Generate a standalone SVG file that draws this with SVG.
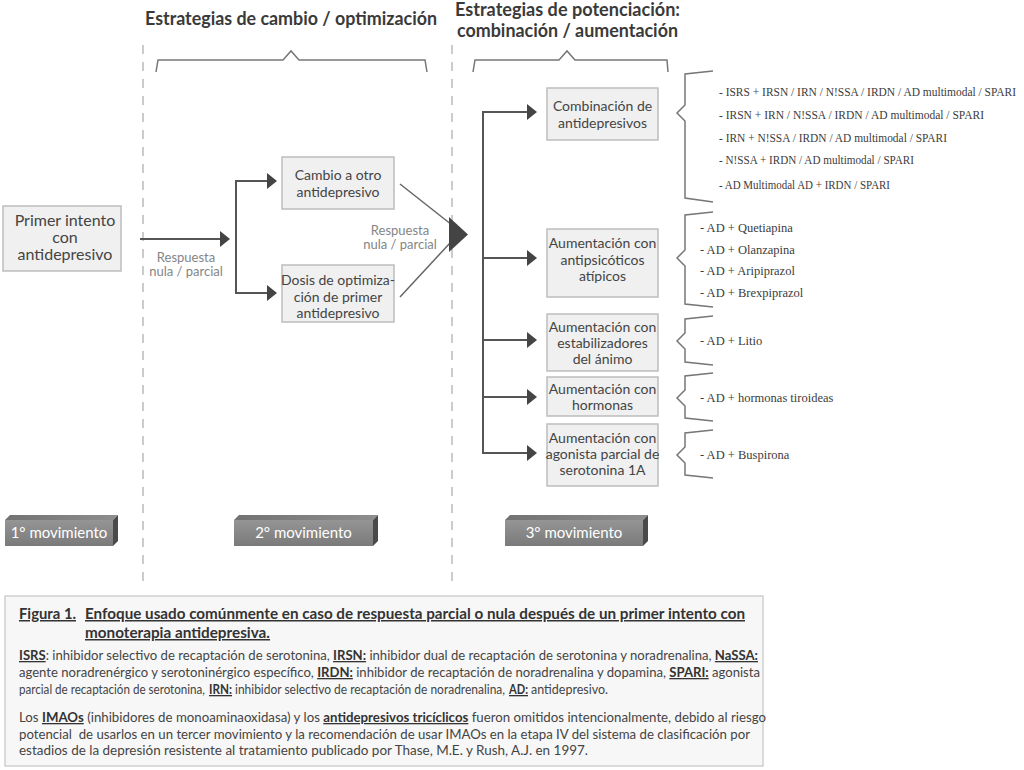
<svg xmlns="http://www.w3.org/2000/svg" width="1024" height="770" viewBox="0 0 1024 770">
<defs>
<style>
.hd{font-family:Lato,"Open Sans","Liberation Sans",sans-serif;font-weight:bold;font-size:18px;fill:#3a3a3a}
.bx{fill:#f0f0f0;stroke:#bdbdbd;stroke-width:1.5}
.bt{font-family:Lato,"Open Sans","Liberation Sans",sans-serif;font-size:14px;fill:#444;text-anchor:middle}
.bt1{font-family:Lato,"Open Sans","Liberation Sans",sans-serif;font-size:16px;fill:#444;text-anchor:middle}
.lb{font-family:Lato,"Open Sans","Liberation Sans",sans-serif;font-size:13px;fill:#858585;text-anchor:middle}
.ln{fill:none;stroke:#555;stroke-width:2}
.dg{fill:none;stroke:#666;stroke-width:1.5}
.ds{fill:none;stroke:#aaa;stroke-width:1.2;stroke-dasharray:9 8}
.br{fill:none;stroke:#777;stroke-width:1.5}
.li{font-family:"Liberation Serif","DejaVu Serif",serif;font-size:12.5px;fill:#3c3c3c}
.li1{font-family:"Liberation Serif","DejaVu Serif",serif;font-size:11.5px;fill:#3c3c3c}
.mv{font-family:Lato,"Open Sans","Liberation Sans",sans-serif;font-size:15px;fill:#fff;text-anchor:middle}
.cp{font-family:Lato,"Open Sans","Liberation Sans",sans-serif;font-size:13px;fill:#444}
.cb{font-family:Lato,"Open Sans","Liberation Sans",sans-serif;font-size:13px;font-weight:bold;text-decoration:underline;fill:#333}
.ct{font-family:Lato,"Open Sans","Liberation Sans",sans-serif;font-size:15px;font-weight:bold;fill:#333;text-decoration:underline}
.u{font-weight:bold;text-decoration:underline;fill:#333}
</style>
<marker id="ah" viewBox="0 0 10 16" markerWidth="10" markerHeight="16" refX="0" refY="8" orient="auto" markerUnits="userSpaceOnUse">
<path d="M0,0 L10,8 L0,16 z" fill="#444"/>
</marker>
<linearGradient id="gf" x1="0" y1="0" x2="0" y2="1"><stop offset="0" stop-color="#959595"/><stop offset="1" stop-color="#7a7a7a"/></linearGradient>
<linearGradient id="gt" x1="0" y1="0" x2="1" y2="0"><stop offset="0" stop-color="#727272"/><stop offset="1" stop-color="#8e8e8e"/></linearGradient>
</defs>
<rect width="1024" height="770" fill="#fff"/>

<g id="headers">
<text class="hd" x="145" y="25" textLength="292" lengthAdjust="spacingAndGlyphs">Estrategias de cambio / optimización</text>
<text class="hd" x="455" y="16" textLength="225" lengthAdjust="spacingAndGlyphs">Estrategias de potenciación:</text>
<text class="hd" x="457" y="37" textLength="221" lengthAdjust="spacingAndGlyphs">combinación / aumentación</text>
<path class="br" d="M156,72 L158,60 L283,60 L291,51 L299,60 L425,60 L427,72"/>
<path class="br" d="M473,72 L475,60 L559,60 L567,51 L575,60 L667,60 L668,72"/>
</g>

<g id="dividers">
<line class="ds" x1="143" y1="45" x2="143" y2="585"/>
<line class="ds" x1="452" y1="45" x2="452" y2="585"/>
</g>

<g id="connectors">
<line class="ln" x1="140" y1="239" x2="220" y2="239" marker-end="url(#ah)"/>
<path class="ln" d="M266,181 L236,181 L236,293 L266,293"/>
<line class="ln" x1="236" y1="181" x2="267" y2="181" marker-end="url(#ah)"/>
<line class="ln" x1="236" y1="293" x2="267" y2="293" marker-end="url(#ah)"/>
<line class="dg" x1="400" y1="184" x2="452" y2="225"/>
<line class="dg" x1="400" y1="297" x2="450" y2="243"/>
<polygon points="449,217 468,234.5 449,252" fill="#444"/>
<path class="ln" d="M527,112 L483,112 L483,453 L527,453"/>
<line class="ln" x1="483" y1="112" x2="527" y2="112" marker-end="url(#ah)"/>
<line class="ln" x1="483" y1="258" x2="527" y2="258" marker-end="url(#ah)"/>
<line class="ln" x1="483" y1="340" x2="527" y2="340" marker-end="url(#ah)"/>
<line class="ln" x1="483" y1="397" x2="527" y2="397" marker-end="url(#ah)"/>
<line class="ln" x1="483" y1="453" x2="527" y2="453" marker-end="url(#ah)"/>
<text class="lb" x="186" y="262">Respuesta</text>
<text class="lb" x="186" y="276">nula / parcial</text>
<text class="lb" x="400" y="235">Respuesta</text>
<text class="lb" x="400" y="249">nula / parcial</text>
</g>

<g id="n-primer">
<rect class="bx" x="3" y="206" width="118" height="65"/>
<text class="bt1" x="65" y="226">Primer intento</text>
<text class="bt1" x="65" y="243">con</text>
<text class="bt1" x="65" y="260">antidepresivo</text>
</g>
<g id="n-cambio">
<rect class="bx" x="282" y="157" width="112" height="52"/>
<text class="bt" x="338" y="180">Cambio a otro</text>
<text class="bt" x="338" y="197">antidepresivo</text>
</g>
<g id="n-dosis">
<rect class="bx" x="282" y="265" width="112" height="57"/>
<text class="bt" x="338" y="285">Dosis de optimiza-</text>
<text class="bt" x="338" y="302">ción de primer</text>
<text class="bt" x="338" y="318">antidepresivo</text>
</g>
<g id="n-combinacion">
<rect class="bx" x="547" y="88" width="111" height="52"/>
<text class="bt" x="602.5" y="111">Combinación de</text>
<text class="bt" x="602.5" y="128">antidepresivos</text>
</g>
<g id="n-antipsicoticos">
<rect class="bx" x="547" y="229" width="111" height="68"/>
<text class="bt" x="602.5" y="248">Aumentación con</text>
<text class="bt" x="602.5" y="265">antipsicóticos</text>
<text class="bt" x="602.5" y="281">atípicos</text>
</g>
<g id="n-estabilizadores">
<rect class="bx" x="547" y="314" width="111" height="57"/>
<text class="bt" x="602.5" y="332">Aumentación con</text>
<text class="bt" x="602.5" y="348">estabilizadores</text>
<text class="bt" x="602.5" y="364">del ánimo</text>
</g>
<g id="n-hormonas">
<rect class="bx" x="547" y="377" width="111" height="39"/>
<text class="bt" x="602.5" y="394">Aumentación con</text>
<text class="bt" x="602.5" y="410">hormonas</text>
</g>
<g id="n-agonista">
<rect class="bx" x="547" y="424" width="111" height="62"/>
<text class="bt" x="602.5" y="443">Aumentación con</text>
<text class="bt" x="602.5" y="459">agonista parcial de</text>
<text class="bt" x="602.5" y="475">serotonina 1A</text>
</g>

<g id="braces">
<path class="br" d="M713,71 L685,74 L685,105 L677,113 L685,121 L685,198 L713,202"/>
<path class="br" d="M713,212 L685,215 L685,250 L677,258 L685,266 L685,304 L713,307"/>
<path class="br" d="M713,316 L685,319 L685,333 L677,341 L685,349 L685,362 L713,365"/>
<path class="br" d="M713,373 L685,376 L685,390 L677,398 L685,406 L685,418 L713,421"/>
<path class="br" d="M713,430 L685,433 L685,447 L677,455 L685,463 L685,475 L713,478"/>
</g>

<g id="list-combinacion">
<text class="li1" x="719" y="96" textLength="297" lengthAdjust="spacingAndGlyphs">- ISRS + IRSN / IRN / N!SSA / IRDN / AD multimodal / SPARI</text>
<text class="li1" x="719" y="119" textLength="265" lengthAdjust="spacingAndGlyphs">- IRSN + IRN / N!SSA / IRDN / AD multimodal / SPARI</text>
<text class="li1" x="719" y="142" textLength="228" lengthAdjust="spacingAndGlyphs">- IRN + N!SSA / IRDN / AD multimodal / SPARI</text>
<text class="li1" x="719" y="164" textLength="195" lengthAdjust="spacingAndGlyphs">- N!SSA + IRDN / AD multimodal / SPARI</text>
<text class="li1" x="719" y="189" textLength="171" lengthAdjust="spacingAndGlyphs">- AD Multimodal AD + IRDN / SPARI</text>
</g>
<g id="list-antipsicoticos">
<text class="li" x="700" y="232">- AD + Quetiapina</text>
<text class="li" x="700" y="254">- AD + Olanzapina</text>
<text class="li" x="700" y="275">- AD + Aripiprazol</text>
<text class="li" x="700" y="297">- AD + Brexpiprazol</text>
</g>
<g id="list-estabilizadores"><text class="li" x="700" y="345">- AD + Litio</text></g>
<g id="list-hormonas"><text class="li" x="700" y="402">- AD + hormonas tiroideas</text></g>
<g id="list-agonista"><text class="li" x="700" y="459">- AD + Buspirona</text></g>

<g id="mov1">
<polygon points="5,520 10,515 118,515 113,520" fill="url(#gt)"/>
<rect x="5" y="520" width="108" height="26" fill="url(#gf)"/>
<polygon points="113,520 118,515 118,541 113,546" fill="#4a4a4a"/>
<text class="mv" x="59" y="538">1° movimiento</text>
</g>
<g id="mov2">
<polygon points="234,520 239,515 378,515 373,520" fill="url(#gt)"/>
<rect x="234" y="520" width="139" height="26" fill="url(#gf)"/>
<polygon points="373,520 378,515 378,541 373,546" fill="#4a4a4a"/>
<text class="mv" x="303.5" y="538">2° movimiento</text>
</g>
<g id="mov3">
<polygon points="505,520 510,515 648,515 643,520" fill="url(#gt)"/>
<rect x="505" y="520" width="138" height="26" fill="url(#gf)"/>
<polygon points="643,520 648,515 648,541 643,546" fill="#4a4a4a"/>
<text class="mv" x="574" y="538">3° movimiento</text>
</g>

<g id="caption">
<rect x="5" y="596" width="758" height="170" fill="#f7f7f7" stroke="#d0d0d0" stroke-width="1.5"/>
<text class="ct" x="19" y="619" textLength="57" lengthAdjust="spacingAndGlyphs">Figura 1.</text>
<text class="ct" x="85" y="619" textLength="660" lengthAdjust="spacingAndGlyphs">Enfoque usado comúnmente en caso de respuesta parcial o nula después de un primer intento con</text>
<text class="ct" x="85" y="638" textLength="185" lengthAdjust="spacingAndGlyphs">monoterapia antidepresiva.</text>
<text class="cp" x="19" y="660" textLength="739" lengthAdjust="spacingAndGlyphs"><tspan class="u">ISRS</tspan>: inhibidor selectivo de recaptación de serotonina, <tspan class="u">IRSN:</tspan> inhibidor dual de recaptación de serotonina y noradrenalina, <tspan class="u">NaSSA:</tspan></text>
<text class="cp" x="19" y="677" textLength="741" lengthAdjust="spacingAndGlyphs">agente noradrenérgico y serotoninérgico específico, <tspan class="u">IRDN:</tspan> inhibidor de recaptación de noradrenalina y dopamina, <tspan class="u">SPARI:</tspan> agonista</text>
<text class="cp" x="19" y="694" textLength="186" lengthAdjust="spacingAndGlyphs">parcial de recaptación de serotonina,</text>
<text class="cb" x="209" y="694" textLength="23" lengthAdjust="spacingAndGlyphs">IRN:</text>
<text class="cp" x="235" y="694" textLength="270" lengthAdjust="spacingAndGlyphs">inhibidor selectivo de recaptación de noradrenalina,</text>
<text class="cb" x="509" y="694" textLength="19" lengthAdjust="spacingAndGlyphs">AD:</text>
<text class="cp" x="531" y="694" textLength="77" lengthAdjust="spacingAndGlyphs">antidepresivo.</text>
<text class="cp" x="19" y="722" textLength="747" lengthAdjust="spacingAndGlyphs">Los <tspan class="u">IMAOs</tspan> (inhibidores de monoaminaoxidasa) y los <tspan class="u">antidepresivos tricíclicos</tspan> fueron omitidos intencionalmente, debido al riesgo</text>
<text class="cp" x="19" y="739" textLength="731" lengthAdjust="spacingAndGlyphs" xml:space="preserve">potencial  de usarlos en un tercer movimiento y la recomendación de usar IMAOs en la etapa IV del sistema de clasificación por</text>
<text class="cp" x="19" y="755" textLength="569" lengthAdjust="spacingAndGlyphs">estadios de la depresión resistente al tratamiento publicado por Thase, M.E. y Rush, A.J. en 1997.</text>
</g>
</svg>
